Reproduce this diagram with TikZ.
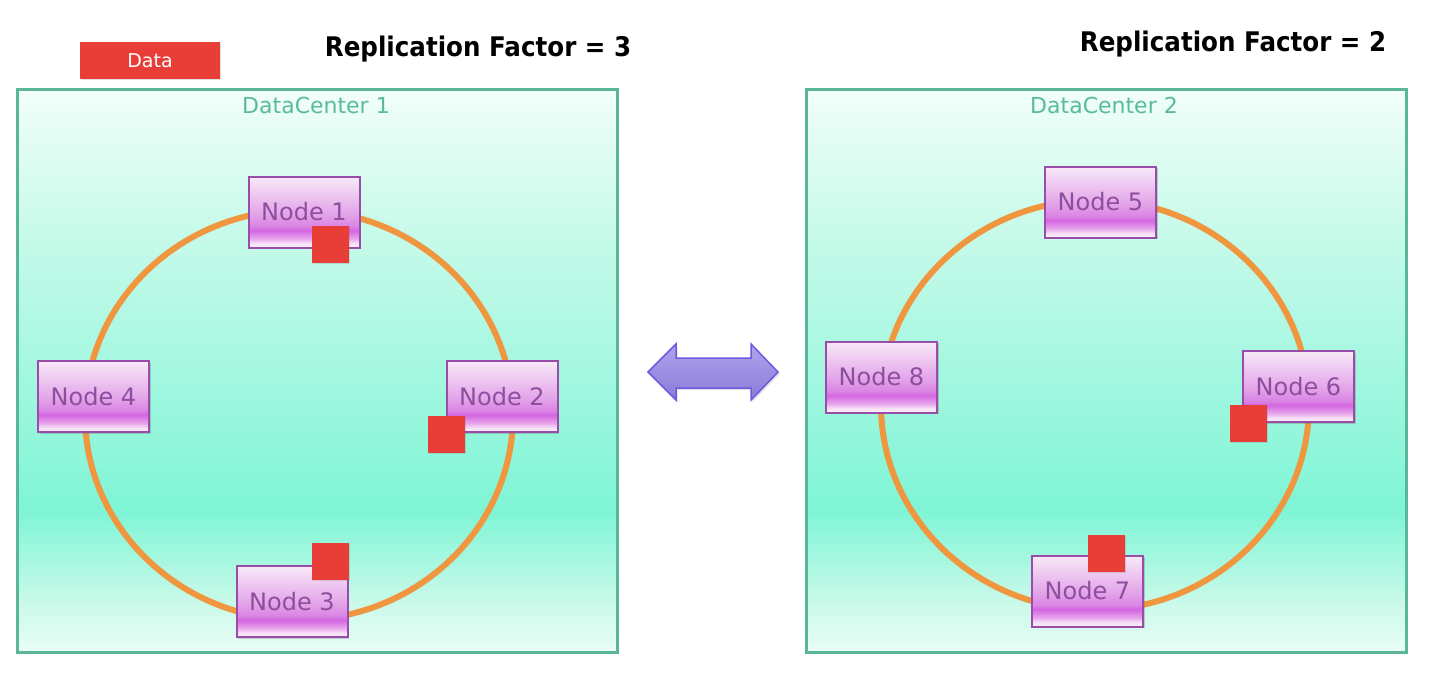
\documentclass[tikz,border=0pt]{standalone}
\usepackage{fontspec}
\setmainfont{DejaVu Sans}
\usetikzlibrary{shadows}
\definecolor{ringorange}{HTML}{EF963F}
\definecolor{dcborder}{HTML}{5BB799}
\definecolor{dctext}{HTML}{5ABB9B}
\definecolor{nodeborder}{HTML}{9A4DA8}
\definecolor{nodetext}{HTML}{8E4D9E}
\definecolor{redsq}{HTML}{E93E37}
\definecolor{arrowborder}{HTML}{6B5BE0}
\definecolor{arrowtop}{HTML}{AFA3EE}
\definecolor{arrowbot}{HTML}{8A7CD6}
\definecolor{nbA}{HTML}{FBF0FB}
\definecolor{nbB}{HTML}{F6E0F6}
\definecolor{nbC}{HTML}{E8A8EC}
\definecolor{nbD}{HTML}{D466E2}
\definecolor{nbE}{HTML}{DA84E4}
\definecolor{nbF}{HTML}{E2A2E8}
\definecolor{nbG}{HTML}{F8EAF8}
\definecolor{dcA}{HTML}{EAFDF7}
\definecolor{dcB}{HTML}{C4F9E8}
\definecolor{dcC}{HTML}{7FF5D6}
\definecolor{dcD}{HTML}{A4F7E0}
\definecolor{dcE}{HTML}{C8FAEA}
\definecolor{dcF}{HTML}{F2FEFA}
\pgfdeclareverticalshading{nodeshade}{100bp}{color(0bp)=(nbA); color(25bp)=(nbA); color(28bp)=(nbB); color(31bp)=(nbC); color(37bp)=(nbD); color(40bp)=(nbE); color(48bp)=(nbF); color(75bp)=(nbG); color(100bp)=(nbG)}
\pgfdeclareverticalshading{dcshade}{100bp}{color(0bp)=(dcA); color(25bp)=(dcA); color(30bp)=(dcB); color(37.5bp)=(dcC); color(50bp)=(dcD); color(62.5bp)=(dcE); color(75bp)=(dcF); color(100bp)=(dcF)}
\tikzset{
  dcbox/.style={draw=dcborder, line width=3pt, shade, shading=dcshade,
    minimum width=600pt, minimum height=563pt, inner sep=0pt,
    drop shadow={shadow xshift=2pt, shadow yshift=-2pt, opacity=0.25, fill=black!60}},
  dclabel/.style={text=dctext, font=\fontsize{22}{26}\selectfont, inner sep=0pt},
  ring/.style={draw=ringorange, line width=6pt},
  srv/.style={draw=nodeborder, line width=2pt, shade, shading=nodeshade,
    minimum width=111pt, minimum height=71pt, inner sep=0pt, text=nodetext,
    font=\fontsize{24}{28}\selectfont,
    drop shadow={shadow xshift=1.5pt, shadow yshift=-1.5pt, opacity=0.3, fill=black!60}},
  replica/.style={fill=redsq, minimum width=37pt, minimum height=37pt, inner sep=0pt,
    drop shadow={shadow xshift=1pt, shadow yshift=-1pt, opacity=0.2, fill=black!60}},
  datakey/.style={fill=redsq, minimum width=140pt, minimum height=37pt, inner sep=0pt,
    text=white, font=\fontsize{19}{22}\selectfont,
    drop shadow={shadow xshift=1pt, shadow yshift=-1pt, opacity=0.2, fill=black!60}},
  title/.style={font=\bfseries\fontsize{27}{32}\selectfont, inner sep=0pt, anchor=base},
  link/.style={draw=arrowborder, line width=1.5pt, top color=arrowtop, bottom color=arrowbot,
    line join=miter,
    drop shadow={shadow xshift=1.5pt, shadow yshift=-2pt, opacity=0.2, fill=black!60}}
}
\begin{document}
\begin{tikzpicture}[x=1pt,y=-1pt]
\useasboundingbox (0,0) rectangle (1430,696);
\fill[white] (0,0) rectangle (1430,696);

% datacenters
\node[dcbox] (dc1) at (317,370.5) {};
\node[dcbox] (dc2) at (1106,370.5) {};
\node[dclabel] (dc1lab) at (316,105) {DataCenter 1};
\node[dclabel] (dc2lab) at (1104,105) {DataCenter 2};

% rings
\draw[ring] (299,415) ellipse [x radius=214pt, y radius=205pt];
\draw[ring] (1095,405) ellipse [x radius=214pt, y radius=205pt];

% nodes DC1
\node[srv] (n1) at (304,212) {Node 1};
\node[srv] (n2) at (502,396.5) {Node 2};
\node[srv] (n3) at (292,601.5) {Node 3};
\node[srv] (n4) at (93.5,396.5) {Node 4};
% nodes DC2
\node[srv] (n5) at (1100.5,202) {Node 5};
\node[srv] (n6) at (1298.5,386.5) {Node 6};
\node[srv] (n7) at (1087.5,591) {Node 7};
\node[srv] (n8) at (881.5,377) {Node 8};

% replicas
\node[replica] (r1) at (330,244.5) {};
\node[replica] (r2) at (446.5,434) {};
\node[replica] (r3) at (330,561) {};
\node[replica] (r6) at (1248.5,423) {};
\node[replica] (r7) at (1106.5,553) {};

% link arrow between datacenters
\draw[link] (648,372) -- (676,344) -- (676,358) -- (751,358) -- (751,344) -- (778,372)
  -- (751,400) -- (751,388) -- (676,388) -- (676,400) -- cycle;

% titles
\node[title] (rf3) at (478,56) {\scalebox{0.91}[1]{Replication Factor = 3}};
\node[title] (rf2) at (1233,51.5) {\scalebox{0.91}[1]{Replication Factor = 2}};

% data key
\node[datakey] (data) at (150,60.5) {Data};
\end{tikzpicture}
\end{document}
